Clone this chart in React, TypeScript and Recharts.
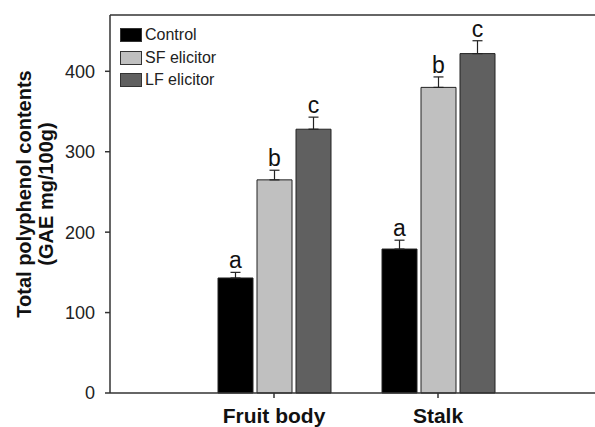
import React from "react";
import {
  BarChart,
  Bar,
  XAxis,
  YAxis,
  ErrorBar,
  LabelList,
  ReferenceLine,
} from "recharts";

const categories = ["Fruit body", "Stalk"];
const controlValues = [143, 179];
const controlErrors = [7, 11];
const sfValues = [265, 380];
const sfErrors = [12, 13];
const lfValues = [328, 422];
const lfErrors = [15, 16];
const controlLetters = ["a", "a"];
const sfLetters = ["b", "b"];
const lfLetters = ["c", "c"];
const yTicks = [0, 100, 200, 300, 400];

const data = categories.map((name, i) => ({
  name,
  control: controlValues[i],
  controlErr: [0, controlErrors[i]],
  sf: sfValues[i],
  sfErr: [0, sfErrors[i]],
  lf: lfValues[i],
  lfErr: [0, lfErrors[i]],
}));

const FONT = "'Liberation Sans', Arial, sans-serif";

const makeLetterLabel = (letters: string[], errors: number[]) => (props: any) => {
  const { x, y, width, height, index, value } = props;
  const k = value ? Math.abs(height) / value : 0;
  const capY = y - errors[index] * k;
  return (
    <text
      x={x + width / 2}
      y={capY - 4}
      textAnchor="middle"
      fontFamily={FONT}
      fontSize={23}
      fill="#111"
    >
      {letters[index]}
    </text>
  );
};

const legendItems = [
  { label: "Control", color: "#000000" },
  { label: "SF elicitor", color: "#c0c0c0" },
  { label: "LF elicitor", color: "#606060" },
];

const LegendBox = () => (
  <div
    style={{
      position: "absolute",
      left: 120,
      top: 24,
      fontFamily: FONT,
      fontSize: 16,
      color: "#222",
      lineHeight: "22.5px",
    }}
  >
    {legendItems.map((it) => (
      <div key={it.label} style={{ display: "flex", alignItems: "center", height: 22.5 }}>
        <div
          style={{
            width: 20,
            height: 12,
            background: it.color,
            border: "1px solid #333",
            marginRight: 3,
          }}
        />
        <span>{it.label}</span>
      </div>
    ))}
  </div>
);

const YLabel = () => (
  <g fontFamily={FONT} fontWeight="bold" fontSize={20} fill="#111">
    <text
      x={24}
      y={194}
      transform="rotate(-90 24 194)"
      textAnchor="middle"
      dominantBaseline="central"
    >
      Total polyphenol  contents
    </text>
    <text
      x={46}
      y={194}
      transform="rotate(-90 46 194)"
      textAnchor="middle"
      dominantBaseline="central"
    >
      (GAE mg/100g)
    </text>
  </g>
);

export default function App() {
  return (
    <div style={{ position: "absolute", left: 0, top: 0, width: 595, height: 427, background: "#fff" }}>
      <BarChart
        width={595}
        height={427}
        data={data}
        margin={{ top: 15, right: 0, bottom: 0, left: 0 }}
        barSize={35}
        barGap={4}
      >
        <XAxis
          dataKey="name"
          padding={{ left: 82, right: 75 }}
          height={34}
          stroke="#333"
          strokeWidth={1.5}
          tickSize={5}
          tickMargin={10}
          tick={{ fontFamily: FONT, fontSize: 21, fontWeight: "bold", fill: "#111" }}
        />
        <YAxis
          domain={[0, 470]}
          ticks={yTicks}
          width={110}
          stroke="#333"
          strokeWidth={1.5}
          tickSize={5}
          tickMargin={10}
          tick={{ fontFamily: FONT, fontSize: 18, fill: "#222" }}
          label={{ content: () => <YLabel /> }}
        />
        <ReferenceLine y={470} stroke="#333" strokeWidth={1.5} />
        <Bar dataKey="control" fill="#000000" stroke="#222" strokeWidth={1} isAnimationActive={false}>
          <ErrorBar dataKey="controlErr" width={5} stroke="#222" strokeWidth={1.2} direction="y" />
          <LabelList dataKey="control" content={makeLetterLabel(controlLetters, controlErrors)} />
        </Bar>
        <Bar dataKey="sf" fill="#c0c0c0" stroke="#222" strokeWidth={1} isAnimationActive={false}>
          <ErrorBar dataKey="sfErr" width={5} stroke="#222" strokeWidth={1.2} direction="y" />
          <LabelList dataKey="sf" content={makeLetterLabel(sfLetters, sfErrors)} />
        </Bar>
        <Bar dataKey="lf" fill="#606060" stroke="#222" strokeWidth={1} isAnimationActive={false}>
          <ErrorBar dataKey="lfErr" width={5} stroke="#222" strokeWidth={1.2} direction="y" />
          <LabelList dataKey="lf" content={makeLetterLabel(lfLetters, lfErrors)} />
        </Bar>
      </BarChart>
      <LegendBox />
    </div>
  );
}
